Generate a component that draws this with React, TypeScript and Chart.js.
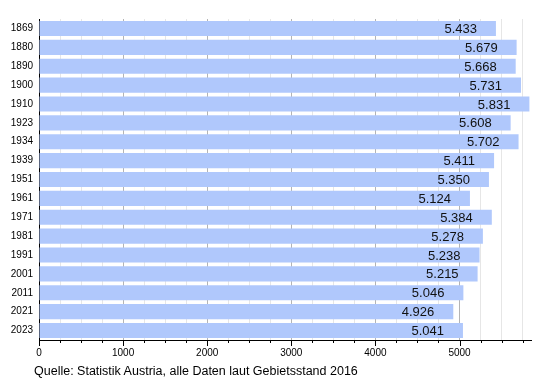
import React, { useEffect, useRef } from "react";
import { Chart, registerables } from "chart.js";

Chart.register(...registerables);

const years = ["1869", "1880", "1890", "1900", "1910", "1923", "1934", "1939", "1951", "1961", "1971", "1981", "1991", "2001", "2011", "2021", "2023"];
const population = [5433, 5679, 5668, 5731, 5831, 5608, 5702, 5411, 5350, 5124, 5384, 5278, 5238, 5215, 5046, 4926, 5041];
const footerText = "Quelle: Statistik Austria, alle Daten laut Gebietsstand 2016";

const FONT = "'Liberation Sans', Arial, Helvetica, sans-serif";

function fmt(v: number): string {
  const s = String(Math.round(v));
  if (s.length <= 3) return s;
  return s.slice(0, s.length - 3) + "." + s.slice(s.length - 3);
}

const valueLabels = {
  id: "valueLabels",
  afterDatasetsDraw(chart: any) {
    const ctx = chart.ctx;
    const meta = chart.getDatasetMeta(0);
    const data = chart.data.datasets[0].data as number[];
    ctx.save();
    ctx.font = `13px ${FONT}`;
    ctx.fillStyle = "#111";
    ctx.textAlign = "right";
    ctx.textBaseline = "middle";
    meta.data.forEach((el: any, i: number) => {
      ctx.fillText(fmt(data[i]), el.x - 19, el.y + 1);
    });
    ctx.restore();
  },
};

const tickMarks = {
  id: "tickMarks",
  afterDraw(chart: any) {
    const ctx = chart.ctx;
    const x = chart.scales.x;
    const bottom = chart.chartArea.bottom;
    ctx.save();
    ctx.strokeStyle = "#000";
    ctx.lineWidth = 1;
    x.ticks.forEach((t: any) => {
      const px = Math.round(x.getPixelForValue(t.value)) + 0.5;
      const len = t.value % 1000 === 0 ? 6 : 3;
      ctx.beginPath();
      ctx.moveTo(px, bottom);
      ctx.lineTo(px, bottom + len);
      ctx.stroke();
    });
    ctx.restore();
  },
};

export default function App() {
  const ref = useRef<HTMLCanvasElement>(null);
  useEffect(() => {
    if (!ref.current) return;
    const chart = new Chart(ref.current, {
      type: "bar",
      data: {
        labels: years,
        datasets: [
          {
            data: population,
            backgroundColor: "#b0c8fc",
            borderWidth: 0,
            categoryPercentage: 1,
            barPercentage: 0.8,
          },
        ],
      },
      options: {
        indexAxis: "y",
        animation: false,
        responsive: false,
        maintainAspectRatio: false,
        layout: { padding: { top: 19, right: 19, bottom: 18, left: 0 } },
        plugins: { legend: { display: false }, tooltip: { enabled: false } },
        scales: {
          x: {
            min: 0,
            max: 5850,
            afterFit(scale: any) {
              scale.height = 22;
            },
            ticks: {
              stepSize: 250,
              autoSkip: false,
              maxRotation: 0,
              includeBounds: false,
              padding: 7,
              color: "#000",
              font: { family: FONT, size: 10 },
              callback: (v: any) => (Number(v) % 1000 === 0 ? String(v) : ""),
            },
            grid: {
              drawTicks: false,
              color: (c: any) => (c.tick && c.tick.value % 1000 === 0 ? "#b4b4b4" : "#e6e6e6"),
              lineWidth: 1,
            },
            border: { color: "#000", width: 1 },
          },
          y: {
            afterFit(scale: any) {
              scale.width = 39;
            },
            ticks: {
              padding: 6,
              color: "#000",
              font: { family: FONT, size: 10 },
            },
            grid: { display: false, drawTicks: false },
            border: { color: "#000", width: 1 },
          },
        },
      },
      plugins: [valueLabels, tickMarks],
    });
    return () => chart.destroy();
  }, []);
  return (
    <div style={{ position: "fixed", left: 0, top: 0, width: 550, height: 380, background: "#fff" }}>
      <canvas ref={ref} width={550} height={380} style={{ display: "block" }} />
      <div
        style={{
          position: "absolute",
          left: 34,
          top: 364,
          fontFamily: FONT,
          fontSize: 12.5,
          lineHeight: "15px",
          color: "#000",
          whiteSpace: "nowrap",
        }}
      >
        {footerText}
      </div>
    </div>
  );
}
